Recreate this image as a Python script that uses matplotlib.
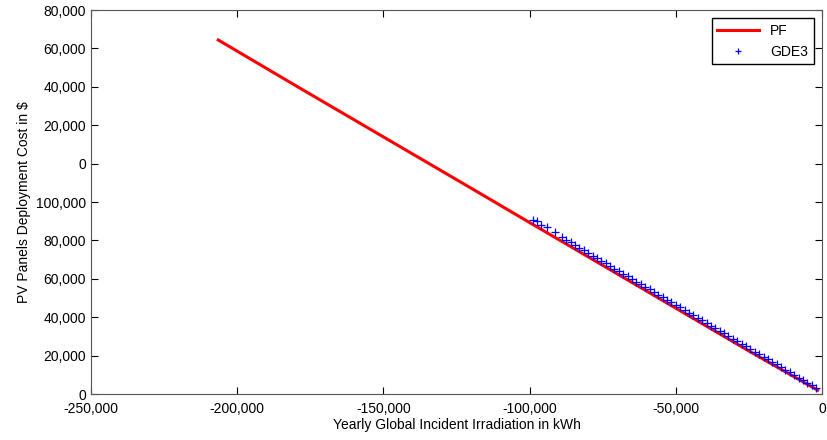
import matplotlib
matplotlib.use("Agg")
import matplotlib.pyplot as plt

plt.rcParams['font.family'] = ['Liberation Sans', 'DejaVu Sans']

# Pareto front (PF)
pf_x = [-206500, -180000, -150000, -120000, -100000, -75000, -50000, -25000, -1500]
pf_y = [184400, 160600, 133900, 107200, 89300, 67000, 44700, 22400, 2000]

# GDE3 solutions
gde_x = [-98800, -97500, -96000, -94000, -91500, -89000, -87500, -86000, -84500,
         -83000, -81500, -80000, -78500, -77000, -75500, -74000, -72500, -71000,
         -69500, -68000, -66500, -65000, -63500, -62000, -60500, -59000, -57500,
         -56000, -54500, -53000, -51500, -50000, -48500, -47000, -45500, -44000,
         -42500, -41000, -39500, -38000, -36500, -35000, -33500, -32000, -30500,
         -29000, -27500, -26000, -24500, -23000, -21500, -20000, -18500, -17000,
         -15500, -14000, -12500, -11000, -9500, -8000, -6500, -5000, -3500, -2200]
gde_y = [90800, 90200, 88000, 86900, 84300, 81800, 80400, 79100, 77500,
         76200, 74800, 73400, 72000, 70700, 69300, 68000, 66700, 65300,
         64000, 62600, 61300, 60000, 58600, 57200, 55900, 54500, 53200,
         51800, 50500, 49100, 47800, 46400, 45100, 43700, 42400, 41000,
         39700, 38300, 37000, 35600, 34300, 32900, 31600, 30200, 28900,
         27500, 26200, 24800, 23500, 22100, 20800, 19400, 18100, 16700,
         15400, 14000, 12700, 11300, 10000, 8600, 7300, 5900, 4500, 3200]

x_ticks = [-250000, -200000, -150000, -100000, -50000, 0]
x_labels = ['-250,000', '-200,000', '-150,000', '-100,000', '-50,000', '0']
y_ticks = list(range(0, 200001, 20000))
y_labels = ['0', '20,000', '40,000', '60,000', '80,000', '100,000',
            '0', '20,000', '40,000', '60,000', '80,000']

fig = plt.figure(figsize=(8.28, 4.40), dpi=100)
ax = fig.add_axes([0.110, 0.1045, 0.8828, 0.8727])

ax.plot(pf_x, pf_y, color='red', linewidth=2.2, label='PF')
ax.plot(gde_x, gde_y, linestyle='none', marker='+', color='blue',
        markersize=6, markeredgewidth=0.9, label='GDE3')

ax.set_xlim(-250000, 0)
ax.set_ylim(0, 200000)
ax.set_xticks(x_ticks)
ax.set_xticklabels(x_labels)
ax.set_yticks(y_ticks)
ax.set_yticklabels(y_labels)
ax.tick_params(direction='in', top=True, right=True, length=5, labelsize=10)
ax.tick_params(axis='x', pad=6)
for s in ax.spines.values():
    s.set_color('#555555')

ax.set_xlabel('Yearly Global Incident Irradiation in kWh', fontsize=10, labelpad=1)
ax.set_ylabel('PV Panels Deployment Cost in $', fontsize=10, labelpad=4)

leg = ax.legend(loc='upper right', fontsize=10, fancybox=False, framealpha=1,
                edgecolor='black', borderaxespad=0.6, handlelength=3,
                markerscale=0.8)

fig.savefig('out.png', dpi=100)
